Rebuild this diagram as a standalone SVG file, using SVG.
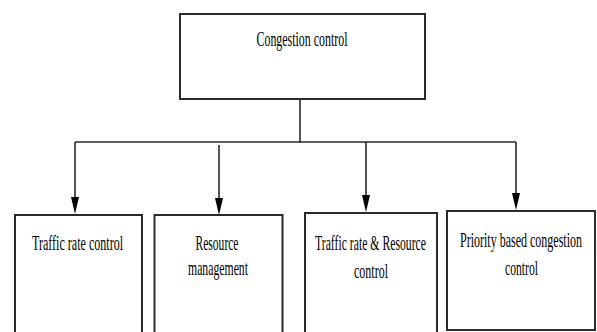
<svg xmlns="http://www.w3.org/2000/svg" width="597" height="332" viewBox="0 0 597 332">
<style>
.box{fill:#fff;stroke:#2a2a2a;stroke-width:2}
.conn{fill:none;stroke:#2a2a2a;stroke-width:1.6}
.head{fill:#000}
.lbl{font-family:"Liberation Serif","Times New Roman",serif;font-size:21px;fill:#000;text-anchor:middle}
</style>
<rect width="597" height="332" fill="#fff"/>
<g id="connectors">
<line class="conn" x1="300" y1="99" x2="300" y2="143"/>
<line class="conn" x1="75" y1="142" x2="516" y2="142"/>
<line class="conn" x1="75" y1="142" x2="75" y2="198"/>
<path class="head" d="M71,197 L79,197 L75,214 Z"/>
<line class="conn" x1="219" y1="145" x2="219" y2="198"/>
<path class="head" d="M215,198 L223,198 L219,215 Z"/>
<line class="conn" x1="366" y1="142" x2="366" y2="196"/>
<path class="head" d="M362,195 L370,195 L366,212 Z"/>
<line class="conn" x1="516" y1="142" x2="516" y2="194"/>
<path class="head" d="M512,193 L520,193 L516,210 Z"/>
</g>
<g id="congestion-control">
<rect class="box" x="180" y="14" width="245" height="85"/>
<text class="lbl" transform="translate(302,46) scale(0.55,1)" textLength="165.5" lengthAdjust="spacingAndGlyphs">Congestion control</text>
</g>
<g id="traffic-rate-control">
<rect class="box" x="15" y="215" width="127" height="130"/>
<text class="lbl" transform="translate(77.5,250) scale(0.55,1)" textLength="165.5" lengthAdjust="spacingAndGlyphs">Traffic rate control</text>
</g>
<g id="resource-management">
<rect class="box" x="154.5" y="215" width="128" height="130"/>
<text class="lbl" transform="translate(217,250) scale(0.55,1)" textLength="78.2" lengthAdjust="spacingAndGlyphs">Resource</text>
<text class="lbl" transform="translate(218,275) scale(0.55,1)" textLength="109.1" lengthAdjust="spacingAndGlyphs">management</text>
</g>
<g id="traffic-rate-resource-control">
<rect class="box" x="305" y="213" width="132" height="130"/>
<text class="lbl" transform="translate(370.5,250) scale(0.55,1)" textLength="201.8" lengthAdjust="spacingAndGlyphs">Traffic rate &amp; Resource</text>
<text class="lbl" transform="translate(371,278) scale(0.55,1)" textLength="61.8" lengthAdjust="spacingAndGlyphs">control</text>
</g>
<g id="priority-based-congestion-control">
<rect class="box" x="447" y="211" width="148" height="119"/>
<text class="lbl" transform="translate(521,247) scale(0.55,1)" textLength="221.8" lengthAdjust="spacingAndGlyphs">Priority based congestion</text>
<text class="lbl" transform="translate(521.5,275) scale(0.55,1)" textLength="60" lengthAdjust="spacingAndGlyphs">control</text>
</g>
</svg>
